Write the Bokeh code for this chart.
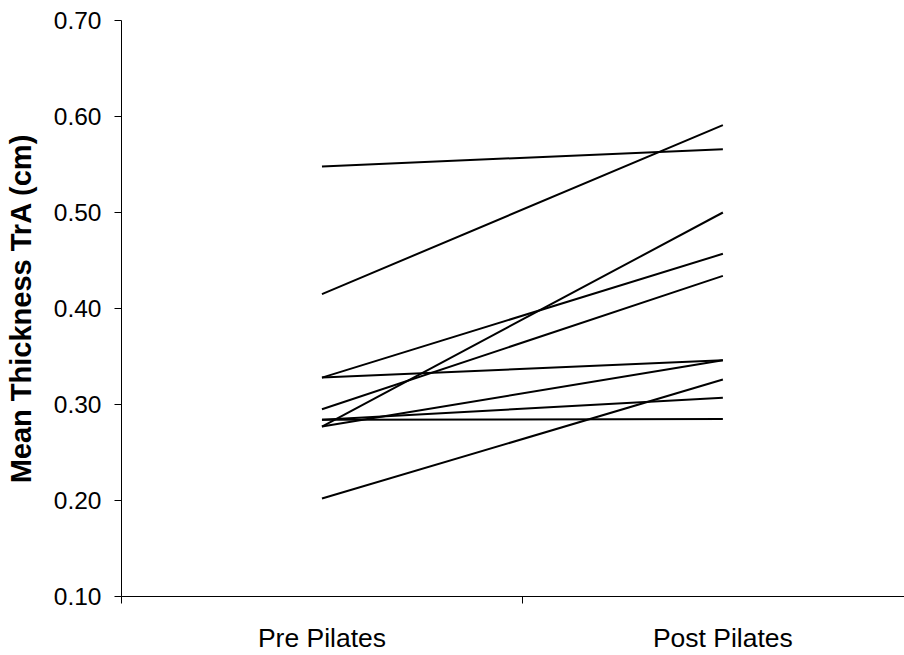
from bokeh.plotting import figure
from bokeh.models import Range1d, FixedTicker, NumeralTickFormatter
from bokeh.embed import file_html
from bokeh.resources import INLINE

categories = ["Pre Pilates", "Post Pilates"]
pre = [0.548, 0.415, 0.328, 0.328, 0.295, 0.277, 0.277, 0.284, 0.284, 0.202]
post = [0.566, 0.591, 0.457, 0.346, 0.434, 0.500, 0.346, 0.307, 0.285, 0.326]
y_ticks = [0.1, 0.2, 0.3, 0.4, 0.5, 0.6, 0.7]

pos = [i + 0.5 for i in range(len(categories))]

p = figure(width=904, height=655, output_backend="svg", toolbar_location=None,
           x_range=Range1d(0, 1.953), y_range=Range1d(0.1, 0.7))
p.min_border_left = 121
p.min_border_right = 0
p.min_border_top = 20
p.min_border_bottom = 56
p.outline_line_color = None
p.xgrid.visible = False
p.ygrid.visible = False
p.background_fill_color = "white"
p.border_fill_color = "white"

xs = [pos for _ in pre]
ys = [[a, b] for a, b in zip(pre, post)]
p.multi_line(xs, ys, line_color="black", line_width=2)

font = "Liberation Sans"
xa = p.xaxis[0]
xa.ticker = FixedTicker(ticks=pos, minor_ticks=[0, 1, 2])
xa.major_label_overrides = {pos[i]: c for i, c in enumerate(categories)}
xa.major_tick_out = 0
xa.major_tick_in = 0
xa.minor_tick_out = 7
xa.minor_tick_in = 0
xa.axis_line_color = "black"
xa.minor_tick_line_color = "black"
xa.major_label_text_font = font
xa.major_label_text_font_size = "26.5px"
xa.major_label_text_color = "black"
xa.major_label_standoff = 19

ya = p.yaxis[0]
ya.ticker = FixedTicker(ticks=y_ticks, minor_ticks=[])
ya.formatter = NumeralTickFormatter(format="0.00")
ya.major_tick_out = 7
ya.major_tick_in = 0
ya.axis_line_color = "black"
ya.major_tick_line_color = "black"
ya.major_label_text_font = font
ya.major_label_text_font_size = "24.5px"
ya.major_label_text_color = "black"
ya.major_label_standoff = 13
ya.axis_label = "Mean Thickness TrA (cm)"
ya.axis_label_text_font = font
ya.axis_label_text_font_style = "bold"
ya.axis_label_text_font_size = "29px"
ya.axis_label_text_color = "black"
ya.axis_label_standoff = 14

open("out.html", "w").write(file_html(p, INLINE))
